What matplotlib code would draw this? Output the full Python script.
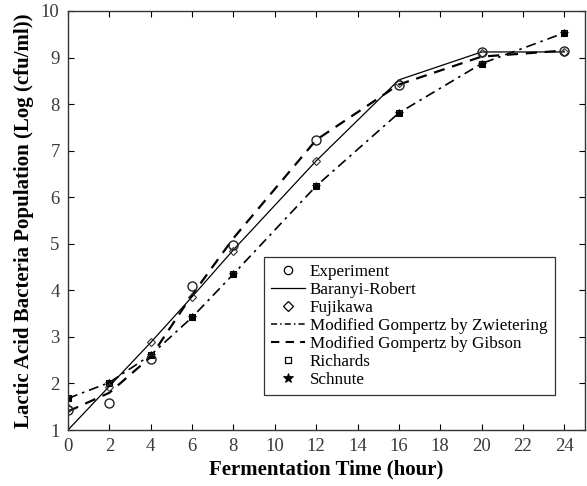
import matplotlib
matplotlib.use("Agg")
import matplotlib.pyplot as plt
from matplotlib.lines import Line2D

# Data
time = [0, 2, 4, 6, 8, 12, 16, 20, 24]
experiment = [1.43, 1.59, 2.52, 4.09, 4.97, 7.23, 8.40, 9.11, 9.13]
baranyi = [1.00, 1.94, 2.88, 3.86, 4.87, 6.78, 8.52, 9.12, 9.12]
fujikawa = [1.47, 1.93, 2.88, 3.86, 4.85, 6.78, 8.45, 9.10, 9.12]
zwietering = [1.68, 2.02, 2.61, 3.42, 4.35, 6.24, 7.81, 8.87, 9.53]
gibson = [1.40, 1.80, 2.57, 3.90, 5.12, 7.23, 8.42, 9.02, 9.15]
richards = [1.68, 2.02, 2.61, 3.42, 4.35, 6.24, 7.81, 8.87, 9.53]
schnute = [1.68, 2.02, 2.61, 3.42, 4.35, 6.24, 7.81, 8.87, 9.53]

xticks = list(range(0, 25, 2))
yticks = list(range(1, 11))

plt.rcParams['font.family'] = ['Liberation Serif', 'DejaVu Serif']

fig = plt.figure(figsize=(5.87, 4.86), dpi=100)
ax = fig.add_axes([0.1158, 0.1152, 0.8808, 0.8622])

k = 'black'
ax.plot(time, baranyi, '-', color=k, lw=0.9)
ax.plot(time, zwietering, '-.', color=k, lw=1.2, dashes=(6, 3, 1.5, 3))
ax.plot(time, gibson, '--', color=k, lw=1.6, dashes=(5, 3.5))
ax.plot(time, richards, 's', color=k, mfc='#333333', ms=5, mew=0.8)
ax.plot(time, schnute, '*', color=k, ms=6, mew=0.6)
ax.plot(time, fujikawa, 'D', color='#333333', mfc='none', ms=4.5, mew=0.8)
ax.plot(time, experiment, 'o', color='#222222', mfc='none', ms=6.5, mew=1.0)

ax.set_xlim(0, 25)
ax.set_ylim(1, 10)
ax.set_xticks(xticks)
ax.set_yticks(yticks)
ax.tick_params(direction='in', top=True, right=True, length=4, width=0.8,
               labelsize=13.5, labelcolor='#3a3a3a', pad=6)
for s in ax.spines.values():
    s.set_linewidth(1.0)
    s.set_color('#333333')

ax.set_xlabel('Fermentation Time (hour)', fontsize=15, fontweight='bold', labelpad=3)
ax.set_ylabel('Lactic Acid Bacteria Population (Log (cfu/ml))', fontsize=15,
              fontweight='bold', labelpad=5)

handles = [
    Line2D([], [], ls='none', marker='o', color=k, mfc='none', ms=6, mew=0.9),
    Line2D([], [], ls='-', color=k, lw=0.9),
    Line2D([], [], ls='none', marker='D', color=k, mfc='none', ms=5, mew=0.9),
    Line2D([], [], ls='-.', color=k, lw=1.1, dashes=(4, 2, 1, 2)),
    Line2D([], [], ls='--', color=k, lw=1.5, dashes=(4, 3)),
    Line2D([], [], ls='none', marker='s', color=k, mfc='none', ms=5, mew=0.9),
    Line2D([], [], ls='none', marker='*', color=k, ms=7, mew=0.6),
]
labels = ['Experiment', 'Baranyi-Robert', 'Fujikawa',
          'Modified Gompertz by Zwietering', 'Modified Gompertz by Gibson',
          'Richards', 'Schnute']
leg = ax.legend(handles, labels, loc='lower left', bbox_to_anchor=(0.379, 0.084),
                fontsize=12.3, frameon=True, fancybox=False, edgecolor='black',
                handlelength=2.0, handletextpad=0.3, labelspacing=0.12,
                borderpad=0.4, borderaxespad=0)
leg.get_frame().set_linewidth(0.9)

fig.savefig('out.png', dpi=100)
